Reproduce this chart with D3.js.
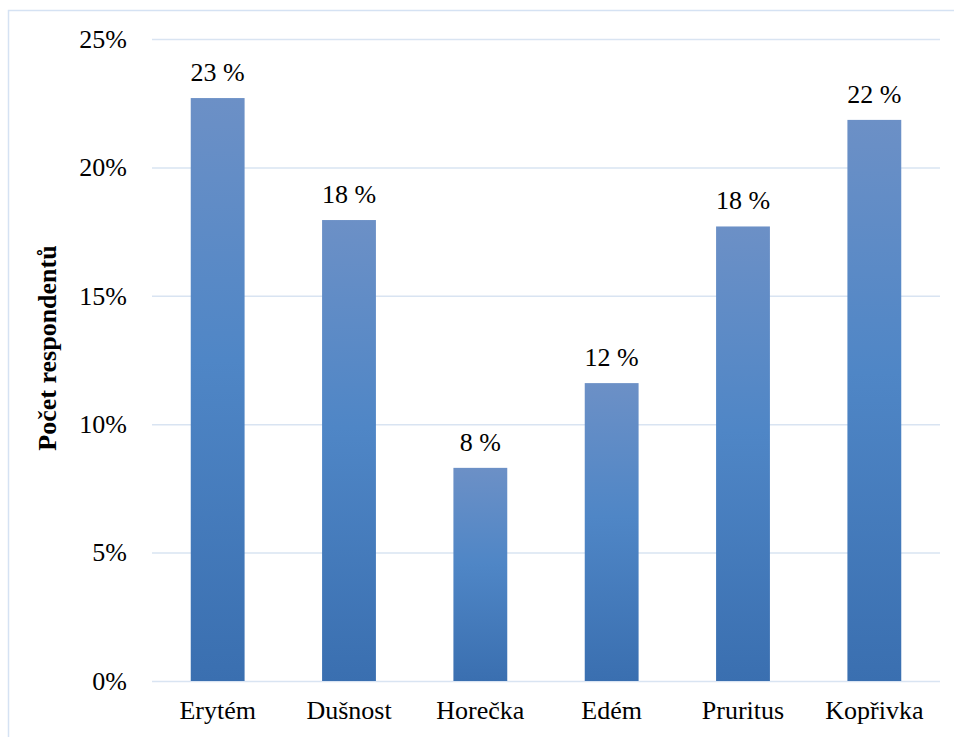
<!DOCTYPE html>
<html>
<head>
<meta charset="utf-8">
<script src="https://cdn.jsdelivr.net/npm/d3@7"></script>
<style>
  html, body { margin: 0; padding: 0; background: #fff; }
  svg { display: block; }
</style>
</head>
<body>
<svg id="chart" width="954" height="737"></svg>
<script>
// Symptom categories and share of respondents (%)
const categories = ["Erytém", "Dušnost", "Horečka", "Edém", "Pruritus", "Kopřivka"];
const values = [22.7, 17.95, 8.3, 11.6, 17.7, 21.85];
const yTicks = [0, 5, 10, 15, 20, 25];
const yTitle = "Počet respondentů";

const W = 954, H = 737;
const margin = { left: 152, right: 14, top: 39, bottom: 56 };
const FONT = '"Liberation Serif", "Times New Roman", serif';
const FS = 26;

const svg = d3.select("#chart");

// outer frame
svg.append("rect")
  .attr("x", 8.5).attr("y", 10.5)
  .attr("width", W + 20).attr("height", H + 20)
  .attr("fill", "none").attr("stroke", "#d5e2f3").attr("stroke-width", 1.5);

const x = d3.scaleBand()
  .domain(categories)
  .range([margin.left, W - margin.right])
  .paddingInner(0.59).paddingOuter(0.295);

const y = d3.scaleLinear()
  .domain([0, 25])
  .range([H - margin.bottom, margin.top]);

// bar fill: lighter at top, saturated in the middle, darker at base
const defs = svg.append("defs");
const grad = defs.append("linearGradient")
  .attr("id", "barGrad").attr("x1", 0).attr("y1", 0).attr("x2", 0).attr("y2", 1);
grad.append("stop").attr("offset", "0%").attr("stop-color", "#6c90c6");
grad.append("stop").attr("offset", "45%").attr("stop-color", "#4f86c6");
grad.append("stop").attr("offset", "100%").attr("stop-color", "#3a6fb0");

// horizontal gridlines with percentage ticks
const yAxis = d3.axisLeft(y)
  .tickValues(yTicks)
  .tickSize(-(W - margin.right - margin.left))
  .tickPadding(25)
  .tickFormat(d => d + "%");

const gy = svg.append("g")
  .attr("transform", `translate(${margin.left},0)`)
  .call(yAxis)
  .attr("font-family", FONT)
  .attr("font-size", FS);
gy.select(".domain").remove();
gy.selectAll(".tick line")
  .attr("stroke", "#d9e4f2").attr("stroke-width", 1.5);
gy.selectAll(".tick text").attr("fill", "#000");

// bars
svg.append("g").selectAll("rect")
  .data(values)
  .join("rect")
  .attr("x", (d, i) => x(categories[i]))
  .attr("y", d => y(d))
  .attr("width", x.bandwidth())
  .attr("height", d => y(0) - y(d))
  .attr("fill", "url(#barGrad)");

// value labels
svg.append("g")
  .attr("font-family", FONT)
  .attr("font-size", FS)
  .selectAll("text")
  .data(values)
  .join("text")
  .attr("x", (d, i) => x(categories[i]) + x.bandwidth() / 2)
  .attr("y", d => y(d) - 17)
  .attr("text-anchor", "middle")
  .attr("fill", "#000")
  .text(d => d3.format(".0f")(d) + " %");

// category axis
const xAxis = d3.axisBottom(x).tickSize(0).tickPadding(20);
const gx = svg.append("g")
  .attr("transform", `translate(0,${y(0)})`)
  .call(xAxis)
  .attr("font-family", FONT)
  .attr("font-size", FS);
gx.select(".domain").remove();
gx.selectAll(".tick text").attr("fill", "#000");

// y-axis title
svg.append("text")
  .attr("transform", `translate(56,348) rotate(-90)`)
  .attr("text-anchor", "middle")
  .attr("font-family", FONT)
  .attr("font-size", FS)
  .attr("font-weight", "bold")
  .attr("fill", "#000")
  .text(yTitle);
</script>
</body>
</html>
